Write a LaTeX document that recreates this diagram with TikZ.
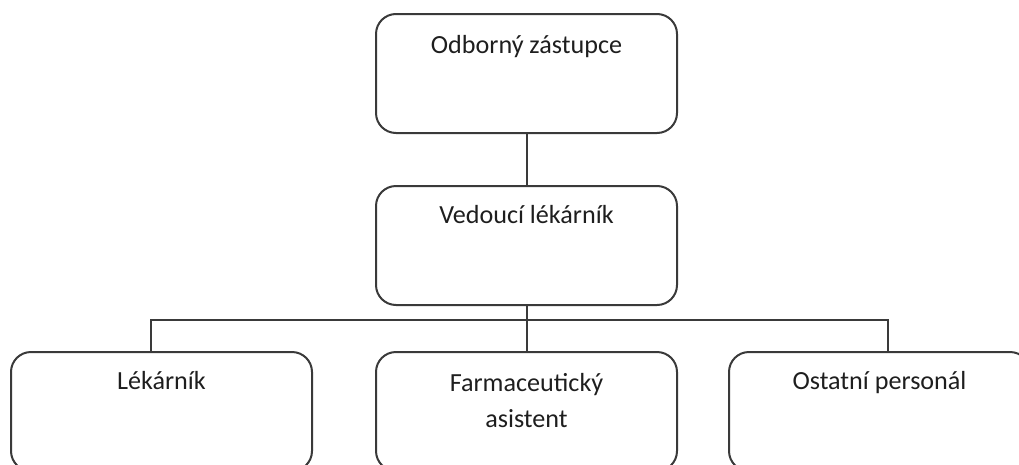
\documentclass[tikz,border=0pt]{standalone}
\usepackage{fontspec}
\setmainfont{Carlito}
\definecolor{edge}{HTML}{3A3A3A}
\definecolor{ink}{HTML}{1E1E1E}
\begin{document}
\begin{tikzpicture}[x=0.75pt,y=-0.75pt,
  box/.style={draw=edge, line width=1.5pt, rounded corners=15pt,
    minimum width=225.75pt, minimum height=89.25pt, inner sep=0pt},
  lbl/.style={text=ink, font=\fontsize{19.6}{27}\selectfont, align=center, anchor=base, inner sep=0pt},
  wire/.style={draw=edge, line width=1.5pt}]
\useasboundingbox (0,0) rectangle (1019,464);
\begin{scope}
\clip (0,0) rectangle (1019,464);
\node[box] (zast) at (526.5,73.5) {};
\node[box] (ved) at (526.5,245.5) {};
\node[box] (lek) at (161.5,411.5) {};
\node[box] (farm) at (526.5,411.5) {};
\node[box] (ost) at (879.5,411.5) {};
\end{scope}
\node[lbl] (tzast) at ([yshift=-30pt]zast.north) {Odborný zástupce};
\node[lbl] (tved) at ([yshift=-29pt]ved.north) {Vedoucí lékárník};
\node[lbl] (tlek) at ([yshift=-29pt]lek.north) {Lékárník};
\node[lbl] (tfarm1) at ([yshift=-30pt]farm.north) {Farmaceutický};
\node[lbl] (tfarm2) at ([yshift=-57pt]farm.north) {asistent};
\node[lbl] (tost) at ([yshift=-29pt]ost.north) {Ostatní personál};
% connectors
\coordinate (bus) at (526.5,320);
\draw[wire] (zast.south) -- (ved.north);
\draw[wire] (ved.south) -- (bus);
\draw[wire] (lek.north -| 151,0) |- (bus);
\draw[wire] (ost.north -| 888,0) |- (bus);
\draw[wire] (bus) -- (farm.north);
\end{tikzpicture}
\end{document}
